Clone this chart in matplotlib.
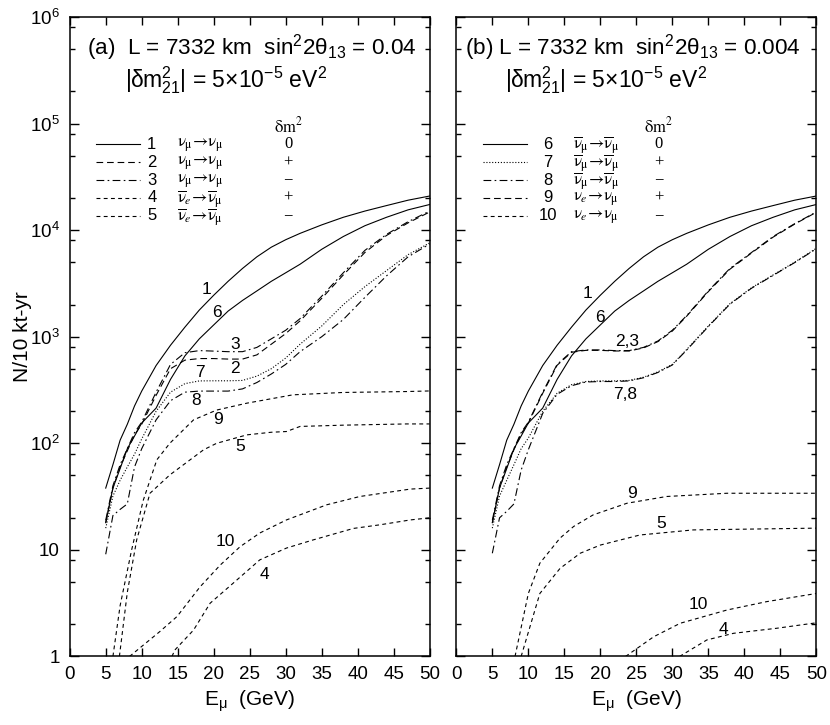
import matplotlib
matplotlib.use("Agg")
import matplotlib.pyplot as plt
import numpy as np
from matplotlib.ticker import FixedLocator, FixedFormatter, NullFormatter

plt.rcParams['font.family'] = ['Liberation Sans', 'DejaVu Sans']
plt.rcParams['mathtext.fontset'] = 'custom'
plt.rcParams['mathtext.rm'] = 'Liberation Sans'
plt.rcParams['mathtext.it'] = 'Liberation Sans:italic'
plt.rcParams['mathtext.bf'] = 'Liberation Sans:bold'

# energy grid (GeV) for the upper curves
E = [5, 6, 7, 8, 9, 10, 12, 14, 16, 18, 20, 22, 24, 26, 28, 30, 32, 35, 38, 41, 44, 47, 50]

# events / 10 kt-yr
n1 = [38, 63, 107, 151, 224, 309, 537, 832, 1230, 1780, 2450, 3310, 4370, 5620, 6920, 8130, 9330, 11200, 13200, 15100, 17000, 19100, 20900]
n6 = [18, 38, 58, 89, 117, 155, 214, 398, 661, 955, 1290, 1740, 2190, 2690, 3310, 3980, 4790, 6610, 8710, 11000, 13200, 15500, 17400]

# panel (a)
a2 = [18, 38, 60, 85, 120, 151, 282, 501, 603, 624, 624, 617, 617, 676, 851, 1070, 1410, 2290, 3800, 6170, 8910, 11700, 14800]
a3 = [19, 40, 63, 89, 126, 158, 302, 550, 708, 741, 733, 724, 724, 794, 955, 1150, 1480, 2400, 3980, 6460, 9120, 12000, 15100]
a7 = [16, 32, 45, 60, 79, 110, 200, 302, 363, 385, 386, 386, 389, 427, 501, 631, 851, 1260, 2000, 2950, 4170, 5890, 7590]
a8 = [9.1, 21, 24, 27, 60, 89, 166, 251, 302, 309, 309, 309, 324, 372, 447, 550, 724, 1000, 1450, 2340, 3720, 5620, 7410]

a9_E = [6.0, 7, 8.6, 10.2, 12.1, 13.9, 17.2, 20.4, 24.6, 31, 38, 46.8, 50]
a9 = [1, 3.0, 10, 29, 70, 100, 166, 205, 238, 285, 300, 306, 310]
a5_E = [6.9, 8, 9.3, 11.15, 13.9, 17.2, 18.6, 20.4, 24.6, 28, 30.1, 32, 38, 46.8, 50]
a5 = [1, 4, 12.4, 34, 50.5, 74, 87, 100, 120, 127, 129, 144, 148, 152, 152]
a10_E = [8.3, 12.5, 14.9, 18.1, 20.9, 23.65, 26.4, 30.1, 35.7, 40.3, 47.3, 50]
a10 = [1.0, 1.71, 2.37, 4.5, 7.2, 10.7, 14.4, 19.1, 26.5, 31.7, 37.2, 38]
a4_E = [14.2, 14.6, 17.2, 19.5, 22.7, 26.4, 30.1, 33.8, 39.4, 43.1, 47.3, 50]
a4 = [1.0, 1.15, 1.77, 3.16, 4.87, 8.06, 10.4, 12.4, 15.9, 17.2, 19.1, 20]

# panel (b)
b2 = [18, 38, 60, 87, 123, 155, 295, 540, 715, 745, 745, 735, 735, 785, 900, 1130, 1560, 2650, 4300, 6100, 8600, 11400, 14700]
b3 = [19, 40, 63, 89, 126, 158, 302, 550, 724, 752, 752, 741, 741, 794, 912, 1150, 1580, 2690, 4370, 6170, 8710, 11500, 14800]
b7 = [16, 32, 45, 63, 89, 112, 200, 295, 355, 380, 385, 385, 389, 417, 468, 550, 759, 1260, 2040, 2880, 3800, 5010, 6760]
b8 = [9.3, 20, 23, 27, 56, 87, 191, 288, 347, 376, 380, 380, 385, 412, 462, 543, 750, 1245, 2020, 2850, 3760, 4960, 6680]

b9_E = [8.15, 10, 11.6, 14.4, 16.3, 19, 23.7, 29.2, 37.6, 50]
b9 = [1, 3.9, 7.5, 12.9, 16.6, 21.3, 27.4, 31.7, 34, 34]
b5_E = [9.0, 11.6, 14.4, 17.2, 20, 25.5, 32.9, 50]
b5 = [1.0, 3.9, 6.7, 9.3, 11.1, 13.8, 15.4, 16]
b10_E = [23.5, 27.4, 31.1, 37.6, 43.1, 50]
b10 = [1.0, 1.53, 2.05, 2.73, 3.27, 3.9]
b4_E = [31.0, 34.8, 38.5, 44.5, 50]
b4 = [1.0, 1.43, 1.65, 1.84, 2.07]

solid = '-'
dash = (0, (6, 3.5))
dashdot = (0, (7, 3, 1.5, 3))
dots = (0, (1, 1.6))
short = (0, (3.5, 3))

ytick_vals = [1, 10, 100, 1e3, 1e4, 1e5, 1e6]
ytick_labels = ['1', '10', '10$^2$', '10$^3$', '10$^4$', '10$^5$', '10$^6$']

fig = plt.figure(figsize=(8.3, 7.25), dpi=100)
axa = fig.add_axes([0.0840, 0.0945, 0.4337, 0.8821])
axb = fig.add_axes([0.5498, 0.0945, 0.4337, 0.8821])

lw = 0.8

def setup(ax, ylabels):
    ax.set_yscale('log')
    ax.set_xlim(0, 50)
    ax.set_ylim(1, 1e6)
    ax.set_xticks(np.arange(0, 51, 5))
    ax.xaxis.set_major_formatter(FixedFormatter([str(v) for v in range(0, 51, 5)]))
    ax.yaxis.set_major_locator(FixedLocator(ytick_vals))
    minors = [m * 10**k for k in range(0, 6) for m in (2, 5, 8)]
    ax.yaxis.set_minor_locator(FixedLocator(minors))
    ax.yaxis.set_minor_formatter(NullFormatter())
    if ylabels:
        ax.yaxis.set_major_formatter(FixedFormatter(ytick_labels))
    else:
        ax.yaxis.set_major_formatter(NullFormatter())
    ax.tick_params(which='both', direction='in', top=True, right=True, labelsize=13.5, width=1.0)
    ax.tick_params(which='major', length=6.5, pad=7)
    ax.tick_params(which='minor', length=3.5)
    ax.tick_params(axis='x', which='major', length=5.5)
    for s in ax.spines.values():
        s.set_linewidth(1.1)
    ax.set_xlabel(r'E$_{\mathrm{\mu}}$  (GeV)', fontsize=15, labelpad=4)

setup(axa, True)
setup(axb, False)

# ---- panel (a) curves
axa.plot(E, n1, color='k', lw=lw, ls=solid)
axa.plot(E, n6, color='k', lw=lw, ls=solid)
axa.plot(E, a2, color='k', lw=lw, ls=dash)
axa.plot(E, a3, color='k', lw=lw, ls=dashdot)
axa.plot(E, a7, color='k', lw=lw, ls=dots)
axa.plot(E, a8, color='k', lw=lw, ls=dashdot)
axa.plot(a9_E, a9, color='k', lw=lw, ls=short)
axa.plot(a5_E, a5, color='k', lw=lw, ls=short)
axa.plot(a10_E, a10, color='k', lw=lw, ls=short)
axa.plot(a4_E, a4, color='k', lw=lw, ls=short)

# ---- panel (b) curves
axb.plot(E, n1, color='k', lw=lw, ls=solid)
axb.plot(E, n6, color='k', lw=lw, ls=solid)
axb.plot(E, b2, color='k', lw=lw, ls=dash)
axb.plot(E, b3, color='k', lw=lw, ls=dashdot)
axb.plot(E, b7, color='k', lw=lw, ls=dots)
axb.plot(E, b8, color='k', lw=lw, ls=dashdot)
axb.plot(b9_E, b9, color='k', lw=lw, ls=short)
axb.plot(b5_E, b5, color='k', lw=lw, ls=short)
axb.plot(b10_E, b10, color='k', lw=lw, ls=short)
axb.plot(b4_E, b4, color='k', lw=lw, ls=short)

# curve numbers (E, N)
labels_a = [('1', 19.0, 10**3.44), ('6', 20.4, 10**3.225), ('3', 22.96, 10**2.925),
            ('2', 22.96, 10**2.706), ('7', 18.1, 10**2.66), ('8', 17.6, 10**2.40),
            ('9', 20.6, 10**2.22), ('5', 23.65, 10**1.97), ('10', 21.6, 10**1.078),
            ('4', 27.1, 10**0.765)]
labels_b = [('1', 18.25, 10**3.41), ('6', 19.9, 10**3.18), ('2,3', 23.7, 10**2.956),
            ('7,8', 23.5, 10**2.455), ('9', 24.36, 10**1.53), ('5', 28.5, 10**1.25),
            ('10', 33.6, 10**0.484), ('4', 37.1, 10**0.25)]
for t, x, y in labels_a:
    axa.text(x, y, t, fontsize=12.5, ha='center', va='center')
for t, x, y in labels_b:
    axb.text(x, y, t, fontsize=12.5, ha='center', va='center')

# header texts
axa.text(0.047, 0.9515, r'(a)  L = 7332 km  sin$^2$2θ$_{13}$ = 0.04', transform=axa.transAxes,
         fontsize=16.2, ha='left', va='center')
axa.text(0.154, 0.9015, r'|δm$^2_{21}$| = 5×10$^{-5}$ eV$^2$', transform=axa.transAxes,
         fontsize=16.5, ha='left', va='center')
axb.text(0.024, 0.9515, r'(b) L = 7332 km  sin$^2$2θ$_{13}$ = 0.004', transform=axb.transAxes,
         fontsize=16.2, ha='left', va='center')
axb.text(0.135, 0.9015, r'|δm$^2_{21}$| = 5×10$^{-5}$ eV$^2$', transform=axb.transAxes,
         fontsize=16.5, ha='left', va='center')

# legend blocks
nu = r'\mathrm{\nu}'
nub = r'\overline{\mathrm{\nu}}'
mu = r'_{\mathrm{\mu}}'
arrow = r'\!\rightarrow\!'
leg_a = [(solid, '1', '$' + nu + mu + arrow + nu + mu + '$', '0'),
         (dash, '2', '$' + nu + mu + arrow + nu + mu + '$', '+'),
         (dashdot, '3', '$' + nu + mu + arrow + nu + mu + '$', '−'),
         (short, '4', '$' + nub + '_e' + arrow + nub + mu + '$', '+'),
         (short, '5', '$' + nub + '_e' + arrow + nub + mu + '$', '−')]
leg_b = [(solid, '6', '$' + nub + mu + arrow + nub + mu + '$', '0'),
         (dots, '7', '$' + nub + mu + arrow + nub + mu + '$', '+'),
         (dashdot, '8', '$' + nub + mu + arrow + nub + mu + '$', '−'),
         (dash, '9', '$' + nu + '_e' + arrow + nu + mu + '$', '+'),
         (short, '10', '$' + nu + '_e' + arrow + nu + mu + '$', '−')]
rows = [0.801, 0.773, 0.745, 0.717, 0.689]

def legend_block(ax, entries, x0, x1, xnum, xtxt, xsign):
    ax.text(xsign, 0.831, r'$\mathrm{\delta m^2}$', transform=ax.transAxes, fontsize=12,
            ha='center', va='center', math_fontfamily='stix')
    for (ls, num, txt, sign), y in zip(entries, rows):
        ax.plot([x0, x1], [y, y], transform=ax.transAxes, color='k', lw=lw, ls=ls)
        ax.text(xnum, y, num, transform=ax.transAxes, fontsize=12, ha='center', va='center')
        ax.text(xtxt, y - 0.002, txt, transform=ax.transAxes, fontsize=12, ha='center',
                va='center', math_fontfamily='stix')
        ax.text(xsign, y, sign, transform=ax.transAxes, fontsize=12, ha='center', va='center',
                family='Liberation Serif')

legend_block(axa, leg_a, 0.073, 0.195, 0.228, 0.362, 0.607)
legend_block(axb, leg_b, 0.074, 0.196, 0.255, 0.389, 0.563)

fig.text(0.027, 0.535, 'N/10 kt-yr', rotation=90, fontsize=15, ha='center', va='center',
         family=['Liberation Sans Narrow', 'Liberation Sans'])

fig.savefig('out.png', dpi=100)
